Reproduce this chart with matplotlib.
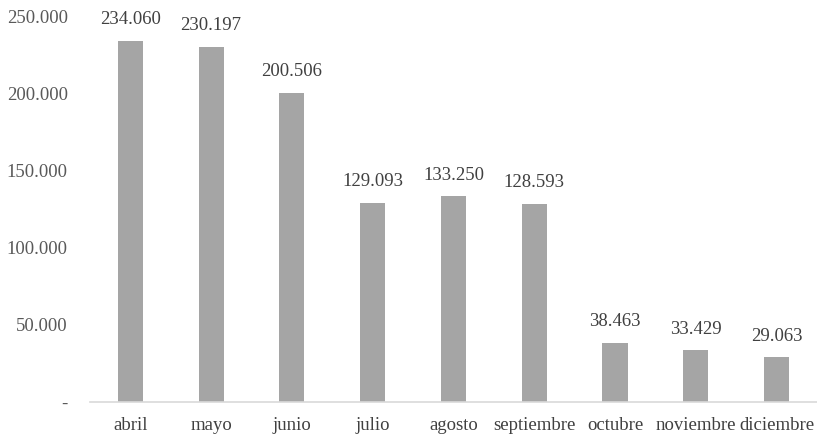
import matplotlib
matplotlib.use("Agg")
import matplotlib.pyplot as plt

months = ["abril", "mayo", "junio", "julio", "agosto", "septiembre", "octubre", "noviembre", "diciembre"]
values = [234060, 230197, 200506, 129093, 133250, 128593, 38463, 33429, 29063]
yticks = [0, 50000, 100000, 150000, 200000, 250000]
ytick_labels = ["-", "50.000", "100.000", "150.000", "200.000", "250.000"]

def fmt(v):
    return f"{v:,}".replace(",", ".")

plt.rcParams['font.family'] = ['Liberation Serif', 'DejaVu Serif']
text_color = "#595959"

fig = plt.figure(figsize=(8.17, 4.37), dpi=100)
ax = fig.add_axes([0.110, 0.080, 0.890, 0.883])
x = list(range(len(months)))
ax.bar(x, values, width=0.31, color="#a5a5a5", zorder=2)
for xi, v in zip(x, values):
    ax.annotate(fmt(v), (xi, v), xytext=(0, 9), textcoords="offset points",
                ha="center", va="bottom", fontsize=13.5, color="#404040")

ax.set_xlim(-0.5, len(months) - 0.5)
ax.set_ylim(0, 250000)
ax.set_yticks(yticks)
ax.set_yticklabels(ytick_labels)
ax.set_xticks(x)
ax.set_xticklabels(months)
ax.tick_params(axis="y", length=0, pad=16, labelsize=13.5, labelcolor=text_color)
ax.tick_params(axis="x", length=0, pad=11, labelsize=13.5, labelcolor="#404040")
for s in ["top", "right", "left"]:
    ax.spines[s].set_visible(False)
ax.spines["bottom"].set_color("#d9d9d9")
ax.spines["bottom"].set_linewidth(1.2)

fig.savefig("out.png", dpi=100)
